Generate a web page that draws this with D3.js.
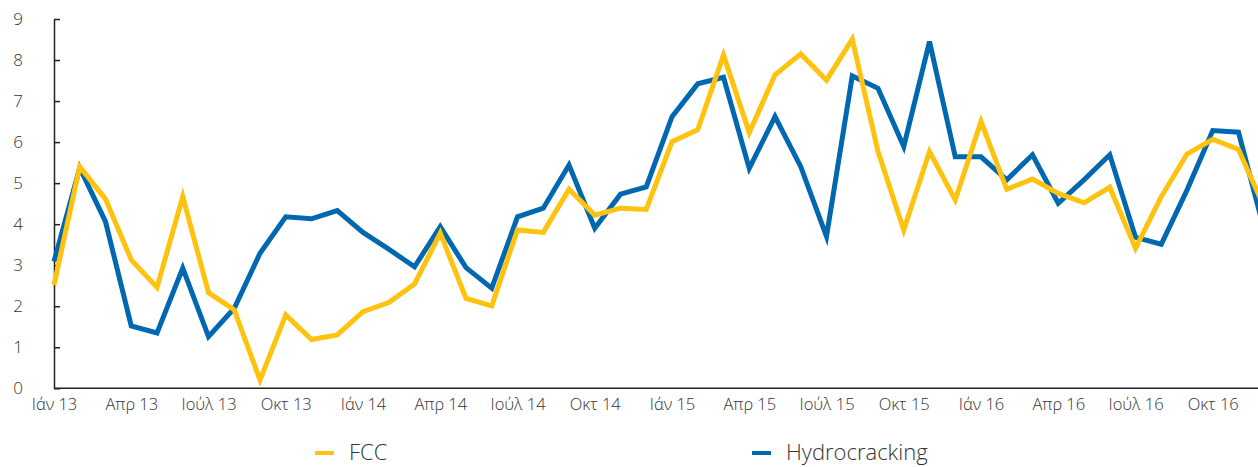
<!DOCTYPE html>
<html>
<head>
<meta charset="utf-8">
<script src="https://cdn.jsdelivr.net/npm/d3@7"></script>
<style>
  body { margin: 0; background: #fff; }
  svg text { font-family: "Open Sans", Roboto, sans-serif; font-weight: 300; fill: #333; }
</style>
</head>
<body>
<div id="chart"></div>
<script>
// months shown on the x axis (Greek abbreviations), one point per month
const monthNames = ["Ιάν", "Φεβ", "Μάρ", "Απρ", "Μάι", "Ιούν", "Ιούλ", "Αύγ", "Σεπ", "Οκτ", "Νοέ", "Δεκ"];
const years = ["13", "14", "15", "16"];
const yTicks = [0, 1, 2, 3, 4, 5, 6, 7, 8, 9];

// series values
const fcc = [
  2.52, 5.40, 4.61, 3.13, 2.46, 4.67, 2.33, 1.91, 0.20, 1.79, 1.19, 1.30,
  1.87, 2.09, 2.54, 3.78, 2.19, 2.01, 3.86, 3.80, 4.85, 4.22, 4.39, 4.36,
  6.01, 6.30, 8.12, 6.23, 7.64, 8.15, 7.51, 8.51, 5.77, 3.86, 5.77, 4.59,
  6.50, 4.85, 5.10, 4.75, 4.52, 4.90, 3.41, 4.67, 5.71, 6.07, 5.82, 4.41
];
const hydrocracking = [
  3.09, 5.37, 4.06, 1.52, 1.35, 2.93, 1.26, 1.95, 3.29, 4.18, 4.13, 4.33,
  3.80, 3.39, 2.96, 3.94, 2.94, 2.44, 4.18, 4.39, 5.44, 3.90, 4.73, 4.91,
  6.62, 7.42, 7.58, 5.36, 6.62, 5.40, 3.70, 7.61, 7.31, 5.89, 8.45, 5.64,
  5.64, 5.08, 5.69, 4.51, 5.08, 5.69, 3.68, 3.51, 4.83, 6.28, 6.24, 3.85
];

const series = [
  { name: "Hydrocracking", color: "#0067b1", values: hydrocracking },
  { name: "FCC", color: "#ffc20e", values: fcc }
];

const categories = [];
years.forEach(yr => monthNames.forEach(m => categories.push(m + " " + yr)));

const width = 1258, height = 467;
const plotLeft = 54, plotBottom = 388.3, plotTop = 19;
const step = 25.75; // the plot runs past the right edge, as in the source

const svg = d3.select("#chart").append("svg")
  .attr("width", width)
  .attr("height", height);

const x = d3.scalePoint()
  .domain(categories)
  .range([plotLeft, plotLeft + (categories.length - 1) * step]);

const y = d3.scaleLinear()
  .domain([0, 9])
  .range([plotBottom, plotTop]);

// y axis, ticks pointing inward
const yAxis = svg.append("g")
  .attr("transform", "translate(" + plotLeft + ",0)")
  .call(d3.axisLeft(y).tickValues(yTicks).tickSize(-6).tickPadding(31).tickSizeOuter(0));
yAxis.select(".domain").attr("stroke", "#222").attr("stroke-width", 1.5);
yAxis.selectAll(".tick line").attr("stroke", "#222").attr("stroke-width", 1.5);
yAxis.selectAll("text").style("font-size", "17px");

// x axis, labels every third month
const xAxis = svg.append("g")
  .attr("transform", "translate(0," + plotBottom + ")")
  .call(d3.axisBottom(x)
    .tickValues(categories.filter((d, i) => i % 3 === 0))
    .tickSize(0).tickPadding(10));
xAxis.select(".domain").attr("d", "M" + plotLeft + ",0H" + width)
  .attr("stroke", "#222").attr("stroke-width", 1.5);
xAxis.selectAll("text").style("font-size", "16.5px");

const line = d3.line()
  .x((d, i) => x(categories[i]))
  .y(d => y(d));

svg.selectAll("path.series")
  .data(series)
  .join("path")
    .attr("class", "series")
    .attr("fill", "none")
    .attr("stroke", d => d.color)
    .attr("stroke-width", 5)
    .attr("stroke-linejoin", "miter")
    .attr("d", d => line(d.values));

// legend
const legendItems = [
  { name: "FCC", color: "#ffc20e", x: 315 },
  { name: "Hydrocracking", color: "#0067b1", x: 752 }
];
const lg = svg.selectAll("g.legend")
  .data(legendItems)
  .join("g")
    .attr("class", "legend")
    .attr("transform", d => "translate(" + d.x + ",453)");
lg.append("line")
  .attr("x1", 0).attr("x2", 19)
  .attr("stroke", d => d.color)
  .attr("stroke-width", 4);
lg.append("text")
  .attr("x", 34)
  .attr("y", 7)
  .style("font-size", "22px")
  .text(d => d.name);
</script>
</body>
</html>
